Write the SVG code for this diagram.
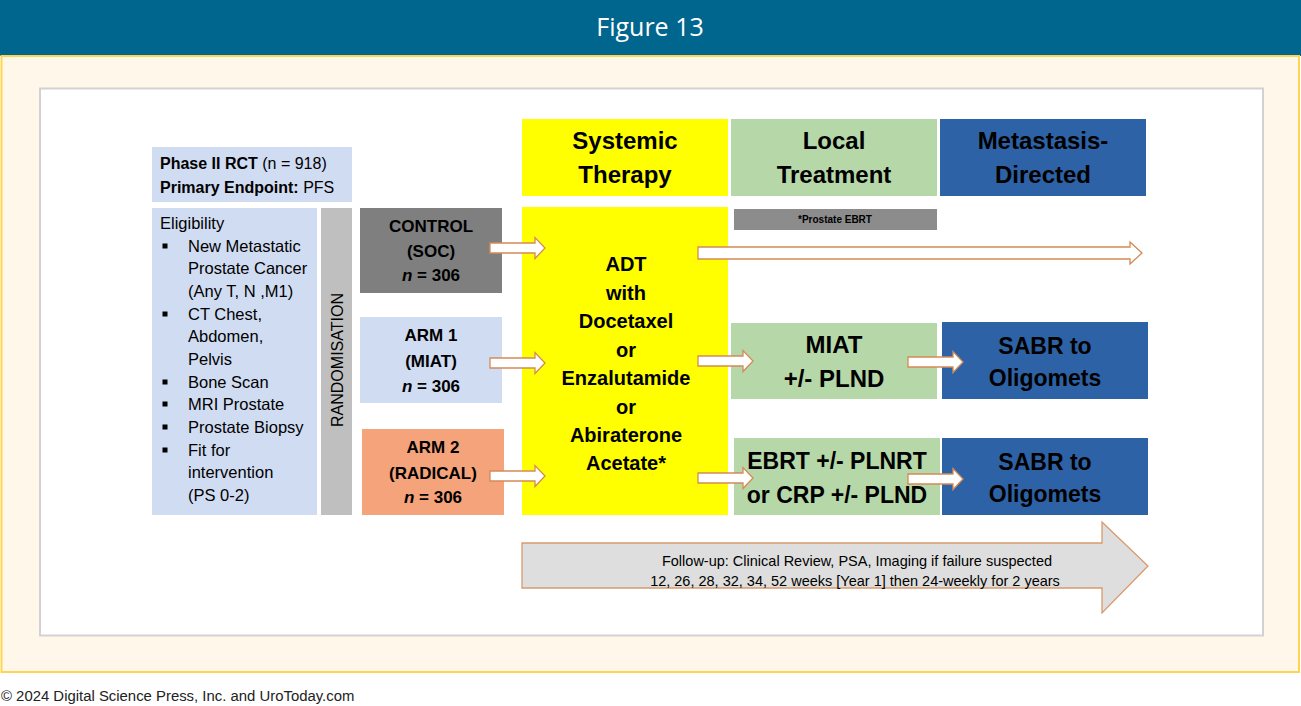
<svg xmlns="http://www.w3.org/2000/svg" xmlns:xlink="http://www.w3.org/1999/xlink" width="1301" height="706" viewBox="0 0 1301 706">
<style>
.t{font-family:"Liberation Sans",Arial,sans-serif;fill:#000}
.b{font-weight:bold}
.c{text-anchor:middle}
.hd{font-size:24px}
.arm{font-size:17px}
.el{font-size:16.5px}
.adt{font-size:20px}
.box{font-size:23px}
.arr{fill:#fff;stroke:#D38B55;stroke-width:1.3}
</style>
<defs>
<path id="blk" d="M0,-5 H45 V-10.5 L55,0 L45,10.5 V5 H0 Z"/>
</defs>
<rect x="0" y="0" width="1301" height="706" fill="#fff"/>
<rect x="0" y="0" width="1301" height="56" fill="#00668D"/>
<text x="650" y="36" class="c" font-family="'Open Sans','Noto Sans',sans-serif" font-weight="500" font-size="25" fill="#fff">Figure 13</text>
<rect x="1.5" y="56" width="1297.5" height="616" fill="#FFF8EA" stroke="#FFD54F" stroke-width="2"/>
<rect x="40" y="88.5" width="1223" height="547" fill="#fff" stroke="#D2D2D2" stroke-width="2"/>
<text x="1" y="701" font-family="'Liberation Sans',Arial,sans-serif" font-size="14.9" fill="#222">© 2024 Digital Science Press, Inc. and UroToday.com</text>

<g id="phase">
<rect x="152" y="147" width="200" height="55" fill="#D0DCF2"/>
<text x="160" y="169" class="t" font-size="16"><tspan class="b">Phase II RCT</tspan> (n = 918)</text>
<text x="160" y="193" class="t" font-size="16"><tspan class="b">Primary Endpoint:</tspan> PFS</text>
</g>
<g id="eligibility">
<rect x="152" y="208" width="165" height="307" fill="#D0DCF2"/>
<g fill="#000">
<rect x="162.5" y="243.5" width="5" height="5"/>
<rect x="162.5" y="311.5" width="5" height="5"/>
<rect x="162.5" y="379.5" width="5" height="5"/>
<rect x="162.5" y="401.5" width="5" height="5"/>
<rect x="162.5" y="424.5" width="5" height="5"/>
<rect x="162.5" y="447.5" width="5" height="5"/>
</g>
<text class="t el" x="160" y="229">Eligibility</text>
<text class="t el" x="188" y="252">New Metastatic</text>
<text class="t el" x="188" y="274">Prostate Cancer</text>
<text class="t el" x="188" y="297">(Any T, N ,M1)</text>
<text class="t el" x="188" y="320">CT Chest,</text>
<text class="t el" x="188" y="342">Abdomen,</text>
<text class="t el" x="188" y="365">Pelvis</text>
<text class="t el" x="188" y="388">Bone Scan</text>
<text class="t el" x="188" y="410">MRI Prostate</text>
<text class="t el" x="188" y="433">Prostate Biopsy</text>
<text class="t el" x="188" y="456">Fit for</text>
<text class="t el" x="188" y="478">intervention</text>
<text class="t el" x="188" y="501">(PS 0-2)</text>
</g>
<g id="randomisation">
<rect x="321" y="208" width="31" height="307" fill="#BFBFBF"/>
<text class="t c" font-size="16" transform="translate(342.5,360) rotate(-90)" fill="#333">RANDOMISATION</text>
</g>
<g id="control">
<rect x="360" y="208" width="142" height="85" fill="#7F7F7F"/>
<text class="t b c arm" x="431" y="232">CONTROL</text>
<text class="t b c arm" x="431" y="257">(SOC)</text>
<text class="t b c arm" x="431" y="281"><tspan font-style="italic">n</tspan> = 306</text>
</g>
<g id="arm1">
<rect x="360" y="317" width="142" height="86" fill="#D0DCF2"/>
<text class="t b c arm" x="431" y="341">ARM 1</text>
<text class="t b c arm" x="431" y="367">(MIAT)</text>
<text class="t b c arm" x="431" y="392"><tspan font-style="italic">n</tspan> = 306</text>
</g>
<g id="arm2">
<rect x="362" y="429" width="142" height="86" fill="#F4A37A"/>
<text class="t b c arm" x="433" y="453">ARM 2</text>
<text class="t b c arm" x="433" y="479">(RADICAL)</text>
<text class="t b c arm" x="433" y="503"><tspan font-style="italic">n</tspan> = 306</text>
</g>
<g id="hdr-systemic">
<rect x="522" y="119" width="206" height="77" fill="#FFFF00"/>
<text class="t b c hd" x="625" y="149">Systemic</text>
<text class="t b c hd" x="625" y="183">Therapy</text>
</g>
<g id="hdr-local">
<rect x="731" y="119" width="206" height="77" fill="#B6D7A8"/>
<text class="t b c hd" x="834" y="149">Local</text>
<text class="t b c hd" x="834" y="183">Treatment</text>
</g>
<g id="hdr-metastasis">
<rect x="940" y="119" width="206" height="77" fill="#2E62A6"/>
<text class="t b c hd" x="1043" y="149">Metastasis-</text>
<text class="t b c hd" x="1043" y="183">Directed</text>
</g>
<g id="systemic">
<rect x="522" y="207" width="206" height="308" fill="#FFFF00"/>
<text class="t b c adt" x="626" y="271">ADT</text>
<text class="t b c adt" x="626" y="299.5">with</text>
<text class="t b c adt" x="626" y="328">Docetaxel</text>
<text class="t b c adt" x="626" y="356.5">or</text>
<text class="t b c adt" x="626" y="385">Enzalutamide</text>
<text class="t b c adt" x="626" y="413.5">or</text>
<text class="t b c adt" x="626" y="442">Abiraterone</text>
<text class="t b c adt" x="626" y="470">Acetate*</text>
</g>
<g id="prostate-ebrt">
<rect x="734" y="209" width="203" height="21" fill="#8C8C8C"/>
<text class="t b c" font-size="10" x="835" y="223">*Prostate EBRT</text>
</g>
<g id="miat">
<rect x="731" y="323" width="206" height="76" fill="#B6D7A8"/>
<text class="t b c" font-size="24" x="834" y="353">MIAT</text>
<text class="t b c" font-size="24" x="834" y="387">+/- PLND</text>
</g>
<g id="sabr1">
<rect x="942" y="322" width="206" height="77" fill="#2E62A6"/>
<text class="t b c box" x="1045" y="354">SABR to</text>
<text class="t b c box" x="1045" y="386">Oligomets</text>
</g>
<g id="ebrt">
<rect x="734" y="438" width="206" height="77" fill="#B6D7A8"/>
<text class="t b c box" x="837" y="469">EBRT +/- PLNRT</text>
<text class="t b c box" x="837" y="503">or CRP +/- PLND</text>
</g>
<g id="sabr2">
<rect x="942" y="438" width="206" height="77" fill="#2E62A6"/>
<text class="t b c box" x="1045" y="470">SABR to</text>
<text class="t b c box" x="1045" y="502">Oligomets</text>
</g>
<g id="followup">
<path d="M522,543 H1102 V522 L1148,566 L1102,613 V588 H522 Z" fill="#DEDEDE" stroke="#D89A6C" stroke-width="1.3"/>
<text class="t c" font-size="14.5" x="857" y="566" fill="#222">Follow-up: Clinical Review, PSA, Imaging if failure suspected</text>
<text class="t c" font-size="14.5" x="855" y="586" fill="#222">12, 26, 28, 32, 34, 52 weeks [Year 1] then 24-weekly for 2 years</text>
</g>
<g id="connectors" class="arr">
<use xlink:href="#blk" x="490" y="248"/>
<use xlink:href="#blk" x="490" y="363"/>
<use xlink:href="#blk" x="490" y="476"/>
<use xlink:href="#blk" x="698" y="361"/>
<use xlink:href="#blk" x="698" y="478"/>
<use xlink:href="#blk" x="908" y="362"/>
<use xlink:href="#blk" x="908" y="479"/>
<path d="M698,247 H1130 V242 L1142,253 L1130,264 V259 H698 Z"/>
</g>
</svg>
